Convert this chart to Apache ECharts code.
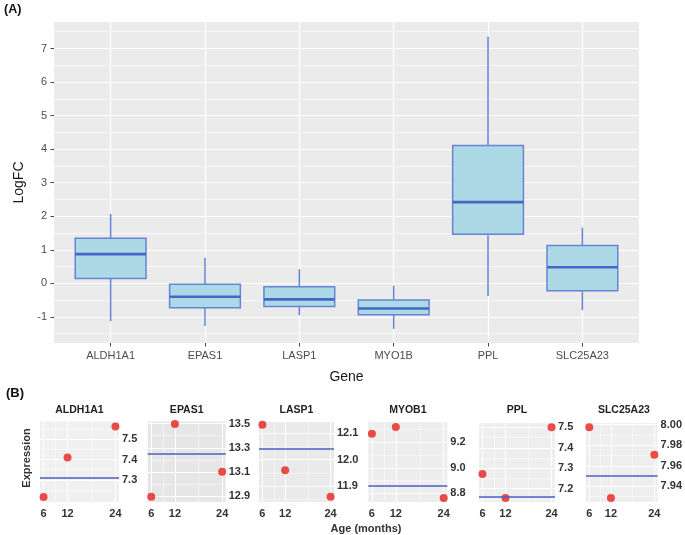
<!DOCTYPE html>
<html><head><meta charset="utf-8">
<script src="https://cdn.jsdelivr.net/npm/echarts@6/dist/echarts.min.js"></script>
<style>html,body{margin:0;padding:0;background:#fff}#c{width:685px;height:535px}</style>
</head><body><div id="c"></div><script>
// ---------- Panel A data ----------
const genes = ['ALDH1A1', 'EPAS1', 'LASP1', 'MYO1B', 'PPL', 'SLC25A23'];
const whiskerLow = [-1.13, -1.27, -0.95, -1.36, -0.38, -0.80];
const quart1 = [0.14, -0.73, -0.69, -0.94, 1.46, -0.22];
const medians = [0.87, -0.40, -0.48, -0.75, 2.42, 0.48];
const quart3 = [1.34, -0.03, -0.10, -0.50, 4.11, 1.13];
const whiskerHigh = [2.07, 0.76, 0.42, -0.07, 7.36, 1.66];
const logfcTicks = [-1, 0, 1, 2, 3, 4, 5, 6, 7];

// ---------- Panel B data ----------
const panelTitles = ['ALDH1A1', 'EPAS1', 'LASP1', 'MYOB1', 'PPL', 'SLC25A23'];
const ages = [6, 12, 24];
const exprALDH1A1 = [7.215, 7.41, 7.563];
const exprEPAS1 = [12.897, 13.497, 13.102];
const exprLASP1 = [12.131, 11.96, 11.861];
const exprMYOB1 = [9.267, 9.32, 8.763];
const exprPPL = [7.272, 7.155, 7.50];
const exprSLC25A23 = [7.9975, 7.9286, 7.9707];
const refLines = [7.308, 13.248, 12.044, 8.857, 7.16, 7.947];
const ticksALDH1A1 = [7.3, 7.4, 7.5];
const ticksEPAS1 = [12.9, 13.1, 13.3, 13.5];
const ticksLASP1 = [11.9, 12.0, 12.1];
const ticksMYOB1 = [8.8, 9.0, 9.2];
const ticksPPL = [7.2, 7.3, 7.4, 7.5];
const ticksSLC25A23 = [7.94, 7.96, 7.98, 8.00];
const ageTicks = [6, 12, 24];

const exprAll = [exprALDH1A1, exprEPAS1, exprLASP1, exprMYOB1, exprPPL, exprSLC25A23];
const ticksAll = [ticksALDH1A1, ticksEPAS1, ticksLASP1, ticksMYOB1, ticksPPL, ticksSLC25A23];
const decimals = [1, 1, 1, 1, 1, 2];

// ---------- layout (positions / scale ranges) ----------
const FONT = '"Liberation Sans", Arial, sans-serif';
const panelBoxes = [[40, 421.5, 79, 80.5], [147.7, 421.5, 78, 80.5], [259, 422, 75, 80], [368.3, 422, 79, 80], [479, 423, 76, 79], [586, 423, 75.7, 79]];
const yRanges = [[7.19, 7.588], [12.853, 13.517], [11.841, 12.141], [8.732, 9.359], [7.135, 7.521], [7.9247, 8.0017]];
const panelBg = ['#F0F0F0', '#E6E6E6', '#EAEAEA', '#EDEDED', '#EEEEEE', '#EEEEEE'];

function minorsOf(ticks, lo, hi) {
  const s = ticks[1] - ticks[0];
  const out = ticks.map(t => t - s / 2).concat([ticks[ticks.length - 1] + s / 2]);
  return out.filter(v => v > lo && v < hi).map(v => +v.toFixed(6));
}

const grids = [], xAxes = [], yAxes = [], series = [], graphics = [];
const noLine = {show: false, onZero: false};

// Panel A grid
grids.push({left: 54, top: 22, width: 585, height: 321, show: true, backgroundColor: '#EBEBEB', borderWidth: 0});
const idx = genes.map((g, i) => i);
xAxes.push({
  gridIndex: 0, type: 'value', min: -0.6, max: 5.6, position: 'bottom',
  name: 'Gene', nameLocation: 'middle', nameGap: 27,
  nameTextStyle: {fontFamily: FONT, fontSize: 14, color: '#1a1a1a'},
  axisLine: noLine,
  axisTick: {show: true, length: 3.5, lineStyle: {color: '#444', width: 1}, customValues: idx},
  axisLabel: {customValues: idx, formatter: v => genes[Math.round(v)], fontFamily: FONT, fontSize: 11, color: '#4D4D4D', margin: 7},
  splitLine: {show: true, lineStyle: {color: '#FFFFFF', width: 1.2}}
});
yAxes.push({
  gridIndex: 0, type: 'value', min: -1.78, max: 7.79, position: 'left',
  name: 'LogFC', nameLocation: 'middle', nameGap: 24, nameRotate: 90,
  nameTextStyle: {fontFamily: FONT, fontSize: 14, color: '#1a1a1a'},
  axisLine: noLine,
  axisTick: {show: true, length: 3.5, lineStyle: {color: '#444', width: 1}, customValues: logfcTicks},
  axisLabel: {customValues: logfcTicks, fontFamily: FONT, fontSize: 11, color: '#4D4D4D', margin: 7},
  splitLine: {show: true, lineStyle: {color: '#FFFFFF', width: 1.2}}
});
const logfcMinor = logfcTicks.map(t => t - 0.5).concat([7.5]);
yAxes.push({
  gridIndex: 0, type: 'value', min: -1.78, max: 7.79, position: 'left',
  axisLine: noLine, axisLabel: {show: false},
  axisTick: {show: false, customValues: logfcMinor},
  splitLine: {show: true, lineStyle: {color: '#FFFFFF', width: 0.6}}
});

series.push({
  type: 'custom', xAxisIndex: 0, yAxisIndex: 0, z: 5,
  data: genes.map((g, i) => [i, whiskerLow[i], quart1[i], medians[i], quart3[i], whiskerHigh[i]]),
  encode: {x: 0, y: [1, 2, 3, 4, 5]},
  renderItem: function (params, api) {
    const x = api.value(0);
    const lo = api.coord([x, api.value(1)]);
    const q1 = api.coord([x, api.value(2)]);
    const md = api.coord([x, api.value(3)]);
    const q3 = api.coord([x, api.value(4)]);
    const hi = api.coord([x, api.value(5)]);
    const w = api.size([0.75, 0])[0];
    const cx = lo[0];
    const edge = '#6584D6';
    return {type: 'group', children: [
      {type: 'line', shape: {x1: cx, y1: hi[1], x2: cx, y2: q3[1]}, style: {stroke: edge, lineWidth: 1.5}},
      {type: 'line', shape: {x1: cx, y1: q1[1], x2: cx, y2: lo[1]}, style: {stroke: edge, lineWidth: 1.5}},
      {type: 'rect', shape: {x: cx - w / 2, y: q3[1], width: w, height: q1[1] - q3[1]}, style: {fill: '#ADD8E6', stroke: edge, lineWidth: 1.5}},
      {type: 'line', shape: {x1: cx - w / 2, y1: md[1], x2: cx + w / 2, y2: md[1]}, style: {stroke: '#4666C4', lineWidth: 2.6}}
    ]};
  }
});

// Panel B grids
panelTitles.forEach((t, k) => {
  const [l, tp, w, h] = panelBoxes[k];
  const gi = grids.length;
  grids.push({left: l, top: tp, width: w, height: h, show: true, backgroundColor: panelBg[k], borderWidth: 0});
  const xi = xAxes.length, yi = yAxes.length;
  xAxes.push({
    gridIndex: gi, type: 'value', min: 5.1, max: 24.9, position: 'bottom',
    axisLine: noLine,
    axisTick: {show: false, customValues: ageTicks},
    axisLabel: {customValues: ageTicks, fontFamily: FONT, fontSize: 11, fontWeight: 'bold', color: '#333', margin: 6},
    splitLine: {show: true, lineStyle: {color: '#FFFFFF', width: 1}}
  });
  xAxes.push({
    gridIndex: gi, type: 'value', min: 5.1, max: 24.9, position: 'bottom',
    axisLine: noLine, axisLabel: {show: false},
    axisTick: {show: false, customValues: [9, 18]},
    splitLine: {show: true, lineStyle: {color: '#FFFFFF', width: 0.5}}
  });
  const [ymin, ymax] = yRanges[k];
  const dec = decimals[k];
  yAxes.push({
    gridIndex: gi, type: 'value', min: ymin, max: ymax, position: 'right',
    axisLine: noLine,
    axisTick: {show: false, customValues: ticksAll[k]},
    axisLabel: {customValues: ticksAll[k], formatter: v => v.toFixed(dec), fontFamily: FONT, fontSize: 11, fontWeight: 'bold', color: '#333', margin: 3},
    splitLine: {show: true, lineStyle: {color: '#FFFFFF', width: 1}}
  });
  yAxes.push({
    gridIndex: gi, type: 'value', min: ymin, max: ymax, position: 'right',
    axisLine: noLine, axisLabel: {show: false},
    axisTick: {show: false, customValues: minorsOf(ticksAll[k], ymin, ymax)},
    splitLine: {show: true, lineStyle: {color: '#FFFFFF', width: 0.5}}
  });
  series.push({
    type: 'line', xAxisIndex: xi, yAxisIndex: yi, data: [], z: 2, silent: true,
    markLine: {symbol: 'none', silent: true, label: {show: false},
      lineStyle: {color: '#4D5EC6', width: 1.6, type: 'solid'},
      emphasis: {disabled: true},
      data: [{yAxis: refLines[k]}]}
  });
  series.push({
    type: 'scatter', xAxisIndex: xi, yAxisIndex: yi, z: 4,
    symbol: 'circle', symbolSize: 8,
    itemStyle: {color: '#E8201C'},
    data: ages.map((a, i) => [a, exprAll[k][i]])
  });
  graphics.push({type: 'text', x: l + w / 2, y: 410.5, style: {text: t, font: 'bold 10.5px ' + FONT, fill: '#222', textAlign: 'center', textVerticalAlign: 'middle'}});
});

graphics.push({type: 'text', x: 4, y: 10, style: {text: '(A)', font: 'bold 12.5px ' + FONT, fill: '#111', textAlign: 'left', textVerticalAlign: 'middle'}});
graphics.push({type: 'text', x: 6, y: 393, style: {text: '(B)', font: 'bold 13px ' + FONT, fill: '#111', textAlign: 'left', textVerticalAlign: 'middle'}});
graphics.push({type: 'text', x: 27, y: 458, rotation: Math.PI / 2, style: {text: 'Expression', font: 'bold 11px ' + FONT, fill: '#333', textAlign: 'center', textVerticalAlign: 'middle'}});
graphics.push({type: 'text', x: 366, y: 529, style: {text: 'Age (months)', font: 'bold 11px ' + FONT, fill: '#333', textAlign: 'center', textVerticalAlign: 'middle'}});

const chart = echarts.init(document.getElementById('c'), null, {renderer: 'canvas'});
chart.setOption({
  animation: false,
  backgroundColor: '#FFFFFF',
  grid: grids, xAxis: xAxes, yAxis: yAxes, series: series, graphic: graphics
});
</script></body></html>
